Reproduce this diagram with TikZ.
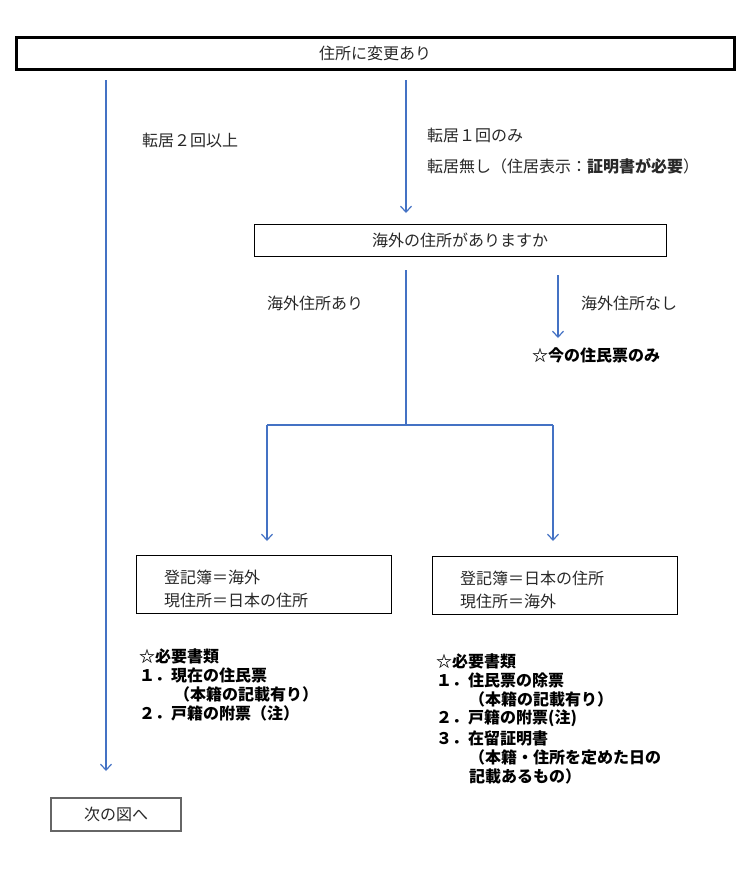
\documentclass[tikz,border=0pt]{standalone}
\usepackage{fontspec}
\newfontfamily\jp{Noto Sans CJK JP}
\usetikzlibrary{arrows.meta}
\definecolor{flow}{RGB}{68,114,196}
\definecolor{ink}{RGB}{40,40,40}
\tikzset{
  arr/.style={draw=flow,line width=1.2pt,-{Straight Barb[length=6pt,width=11pt,line width=1.2pt]}},
  ln/.style={draw=flow,line width=1.5pt},
  box/.style={draw=black,line width=0.9pt,inner sep=0pt,fill=white},
  jpf/.style={font=\jp\fontsize{16}{19}\selectfont,text=ink},
  txt/.style={jpf,inner sep=0pt,anchor=west},
  btxt/.style={txt,font=\jp\bfseries\fontsize{16}{19}\selectfont,text=black}
}
\begin{document}
\begin{tikzpicture}[x=1pt,y=-1pt]
\useasboundingbox (0,0) rectangle (750,876);
% boxes
\node[box,jpf,line width=3pt,minimum width=718pt,minimum height=32pt] (top) at (375,53) {住所に変更あり};
\node[box,jpf,minimum width=412pt,minimum height=32pt] (q) at (460,240) {海外の住所がありますか};
\node[box,minimum width=255pt,minimum height=58pt] (bl) at (263.5,584) {};
\node[box,minimum width=245pt,minimum height=58pt] (br) at (554.5,585) {};
\node[box,jpf,draw=black!60,line width=1.2pt,minimum width=130pt,minimum height=33pt] (next) at (116,814.5) {次の図へ};
% coordinates
\coordinate (l1) at (106,80);
\coordinate (l2) at (106,771);
\coordinate (m1) at (406,80);
\coordinate (m2) at (406,213);
\coordinate (c1) at (406,270);
\coordinate (j) at (406,425);
\coordinate (jl) at (267,425);
\coordinate (jr) at (553,425);
\coordinate (al) at (267,541);
\coordinate (ar) at (553,541);
\coordinate (n1) at (558,275);
\coordinate (n2) at (558,338);
% connectors
\draw[arr] (l1) -- (l2);
\draw[arr] (m1) -- (m2);
\draw[ln] (c1) -- (j);
\draw[ln] (jl) -- (jr);
\draw[arr] (jl) -- (al);
\draw[arr] (jr) -- (ar);
\draw[arr] (n1) -- (n2);
% labels
\node[txt] (t2) at (142,140) {転居２回以上};
\node[txt] (t1) at (427,135) {転居１回のみ};
\node[txt] (t0) at (427,166) {転居無し（住居表示：\textbf{証明書が必要}）};
\node[txt] (ya) at (267,303) {海外住所あり};
\node[txt] (na) at (581,303) {海外住所なし};
\node[btxt] (ima) at (532,355) {☆今の住民票のみ};
% box texts
\node[txt] (bl1) at (164,577) {登記簿＝海外};
\node[txt] (bl2) at (164,600) {現住所＝日本の住所};
\node[txt] (br1) at (460,578) {登記簿＝日本の住所};
\node[txt] (br2) at (460,601) {現住所＝海外};
% left list
\node[btxt] (ll0) at (139,656) {☆必要書類};
\node[btxt] (ll1) at (139,675) {１．現在の住民票};
\node[btxt] (ll2) at (174,694) {（本籍の記載有り）};
\node[btxt] (ll3) at (139,713) {２．戸籍の附票（注）};
% right list
\node[btxt] (rl0) at (436,661) {☆必要書類};
\node[btxt] (rl1) at (436,680) {１．住民票の除票};
\node[btxt] (rl2) at (469,699) {（本籍の記載有り）};
\node[btxt] (rl3) at (436,718) {２．戸籍の附票(注)};
\node[btxt] (rl4) at (436,738) {３．在留証明書};
\node[btxt] (rl5) at (469,757) {（本籍・住所を定めた日の};
\node[btxt] (rl6) at (469,776) {記載あるもの）};
\end{tikzpicture}
\end{document}
